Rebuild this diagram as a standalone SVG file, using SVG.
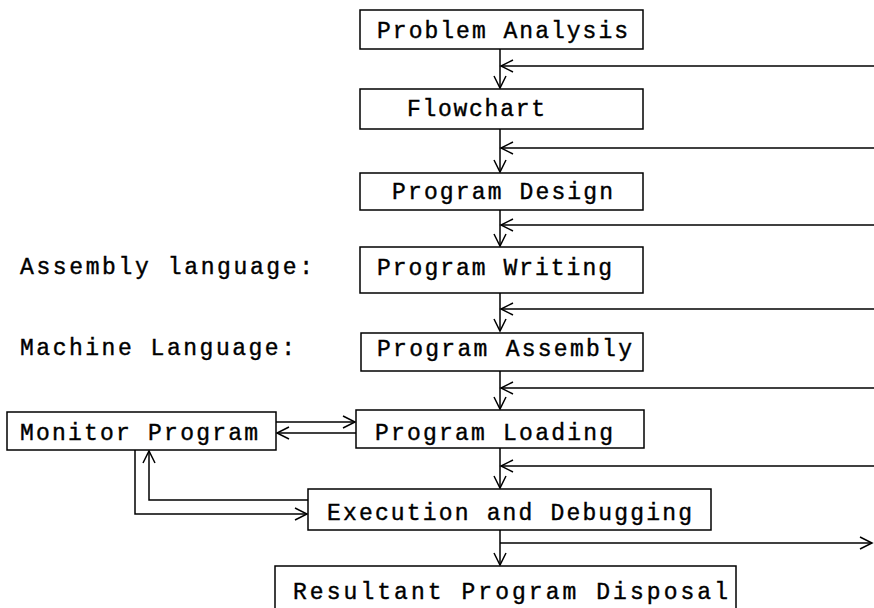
<svg xmlns="http://www.w3.org/2000/svg" width="874" height="608" viewBox="0 0 874 608">
<style>
.box{fill:#fff;stroke:#000;stroke-width:1.5}
.t{font-family:"Liberation Mono","DejaVu Sans Mono",monospace;font-size:23px;fill:#000;stroke:#000;stroke-width:0.4}
.c{fill:none;stroke:#000;stroke-width:1.5}
</style>
<defs>
<marker id="ah" markerUnits="userSpaceOnUse" viewBox="-14 -8 16 16" refX="0" refY="0" markerWidth="16" markerHeight="16" orient="auto">
<path d="M-12,-6 L0,0 L-12,6" fill="none" stroke="#000" stroke-width="1.5"/>
</marker>
</defs>
<rect width="874" height="608" fill="#fff"/>
<g id="connectors">
<path class="c" d="M500,49 V88" marker-end="url(#ah)"/>
<path class="c" d="M500,129 V172" marker-end="url(#ah)"/>
<path class="c" d="M500,210 V246" marker-end="url(#ah)"/>
<path class="c" d="M500,293 V331" marker-end="url(#ah)"/>
<path class="c" d="M500,371 V409" marker-end="url(#ah)"/>
<path class="c" d="M500,448 V488" marker-end="url(#ah)"/>
<path class="c" d="M500,530 V565" marker-end="url(#ah)"/>
<path class="c" d="M874,66 H501" marker-end="url(#ah)"/>
<path class="c" d="M874,148 H501" marker-end="url(#ah)"/>
<path class="c" d="M874,225 H501" marker-end="url(#ah)"/>
<path class="c" d="M874,309 H501" marker-end="url(#ah)"/>
<path class="c" d="M874,388 H501" marker-end="url(#ah)"/>
<path class="c" d="M874,466 H501" marker-end="url(#ah)"/>
<path class="c" d="M500,543 H872" marker-end="url(#ah)"/>
<path class="c" d="M276,422 H355" marker-end="url(#ah)"/>
<path class="c" d="M356,433 H277" marker-end="url(#ah)"/>
<path class="c" d="M135,450 V514 H307" marker-end="url(#ah)"/>
<path class="c" d="M308,500 H149 V451" marker-end="url(#ah)"/>
</g>
<g id="problem-analysis">
<rect class="box" x="360" y="10" width="283" height="39"/>
<text class="t" x="377" y="38" textLength="251" lengthAdjust="spacing">Problem Analysis</text>
</g>
<g id="flowchart">
<rect class="box" x="360" y="89" width="283" height="40"/>
<text class="t" x="407" y="116" textLength="138" lengthAdjust="spacing">Flowchart</text>
</g>
<g id="program-design">
<rect class="box" x="360" y="173" width="283" height="37"/>
<text class="t" x="392" y="199" textLength="221" lengthAdjust="spacing">Program Design</text>
</g>
<g id="program-writing">
<rect class="box" x="360" y="247" width="283" height="46"/>
<text class="t" x="377" y="275" textLength="235" lengthAdjust="spacing">Program Writing</text>
</g>
<g id="program-assembly">
<rect class="box" x="361" y="333" width="282" height="38"/>
<text class="t" x="377" y="356" textLength="255" lengthAdjust="spacing">Program Assembly</text>
</g>
<g id="program-loading">
<rect class="box" x="356" y="410" width="288" height="38"/>
<text class="t" x="375" y="440" textLength="238" lengthAdjust="spacing">Program Loading</text>
</g>
<g id="monitor-program">
<rect class="box" x="7" y="412" width="269" height="38"/>
<text class="t" x="20" y="440" textLength="238" lengthAdjust="spacing">Monitor Program</text>
</g>
<g id="execution-debugging">
<rect class="box" x="308" y="489" width="403" height="41"/>
<text class="t" x="327" y="520" textLength="365" lengthAdjust="spacing">Execution and Debugging</text>
</g>
<g id="resultant-disposal">
<rect class="box" x="275" y="566" width="461" height="46"/>
<text class="t" x="293" y="599" textLength="435" lengthAdjust="spacing">Resultant Program Disposal</text>
</g>
<g id="labels">
<text class="t" x="20" y="274" textLength="293" lengthAdjust="spacing">Assembly language:</text>
<text class="t" x="20" y="355" textLength="275" lengthAdjust="spacing">Machine Language:</text>
</g>
</svg>
